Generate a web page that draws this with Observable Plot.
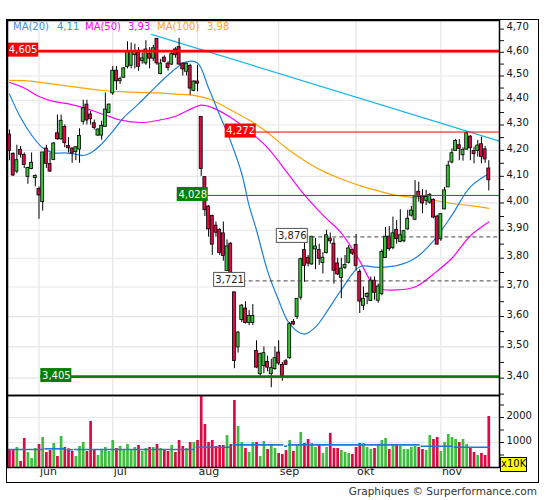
<!DOCTYPE html>
<html><head><meta charset="utf-8">
<script src="https://cdn.jsdelivr.net/npm/d3@7"></script>
<script src="https://cdn.jsdelivr.net/npm/@observablehq/plot@0.6"></script>
<style>
body{margin:0;background:#fff;font-family:"DejaVu Sans",Verdana,sans-serif;}
#wrap{position:relative;width:545px;height:500px;overflow:hidden;}
#wrap svg{position:absolute;left:0;}
.abs{position:absolute;white-space:nowrap;}
</style></head><body><div id="wrap"></div>
<script>
// ---------- data ----------
const open = [4.26,4.185,4.12,4.20,4.18,4.10,4.13,4.095,4.05,4.005,
4.205,4.145,4.165,4.265,4.245,4.29,4.215,4.205,4.195,4.205,
4.315,4.38,4.34,4.305,4.26,4.26,4.295,4.35,4.43,4.52,
4.48,4.495,4.54,4.545,4.59,4.595,4.565,4.555,4.59,4.575,
4.655,4.51,4.575,4.55,4.55,4.61,4.62,4.55,4.52,4.54,
4.44,4.475,4.33,4.095,3.985,3.95,3.915,3.90,3.887,3.757,
3.85,3.68,3.50,3.59,3.625,3.58,3.58,3.485,3.414,3.44,
3.45,3.414,3.43,3.48,3.44,3.452,3.465,3.58,3.60,3.665,
3.827,3.80,3.78,3.833,3.827,3.785,3.82,3.868,3.85,3.78,
3.733,3.768,3.785,3.827,3.845,3.75,3.638,3.668,3.654,3.72,
3.655,3.677,3.803,3.875,3.838,3.899,3.86,3.862,3.905,3.955,
3.94,4.04,4.022,4.01,4.003,4.01,3.948,3.869,3.978,4.06,
4.155,4.20,4.218,4.183,4.205,4.252,4.196,4.20,4.222,4.202,
4.128];
const high = [4.28,4.19,4.22,4.215,4.19,4.135,4.19,4.105,4.06,4.19,
4.22,4.19,4.23,4.34,4.34,4.30,4.25,4.21,4.215,4.285,
4.40,4.40,4.355,4.32,4.285,4.315,4.43,4.385,4.54,4.54,
4.495,4.535,4.645,4.64,4.635,4.62,4.595,4.65,4.62,4.63,
4.66,4.57,4.585,4.56,4.60,4.62,4.66,4.555,4.555,4.55,
4.48,4.545,4.33,4.097,3.99,3.955,3.93,3.905,3.93,3.865,
3.855,3.68,3.55,3.64,3.65,3.62,3.64,3.52,3.48,3.50,
3.47,3.46,3.50,3.52,3.45,3.46,3.58,3.59,3.66,3.80,
3.856,3.81,3.876,3.87,3.85,3.82,3.90,3.89,3.87,3.80,
3.80,3.81,3.845,3.83,3.885,3.76,3.70,3.68,3.734,3.735,
3.71,3.83,3.91,3.913,3.948,3.935,3.975,3.90,3.973,3.987,
4.084,4.078,4.05,4.047,4.035,4.015,3.955,3.96,4.058,4.158,
4.206,4.243,4.242,4.21,4.272,4.258,4.213,4.239,4.252,4.215,
4.16];
const low = [4.16,4.10,4.11,4.17,4.13,4.07,4.125,4.06,3.94,3.97,
4.13,4.115,4.16,4.24,4.24,4.21,4.19,4.15,4.16,4.15,
4.30,4.30,4.30,4.28,4.255,4.24,4.29,4.345,4.42,4.44,
4.465,4.49,4.53,4.53,4.53,4.52,4.55,4.545,4.53,4.56,
4.545,4.505,4.555,4.52,4.545,4.575,4.545,4.50,4.50,4.42,
4.435,4.435,4.10,3.95,3.875,3.81,3.875,3.81,3.79,3.755,
3.74,3.43,3.48,3.58,3.575,3.57,3.57,3.43,3.405,3.414,
3.42,3.37,3.425,3.44,3.39,3.44,3.46,3.57,3.59,3.655,
3.716,3.77,3.775,3.76,3.775,3.745,3.815,3.85,3.71,3.74,
3.66,3.76,3.78,3.81,3.755,3.61,3.62,3.64,3.65,3.655,
3.645,3.67,3.80,3.825,3.83,3.85,3.855,3.855,3.90,3.948,
3.935,4.003,3.96,3.99,3.995,3.942,3.848,3.86,3.975,4.06,
4.148,4.197,4.16,4.158,4.20,4.16,4.148,4.174,4.148,4.15,
4.045];
const close = [4.20,4.105,4.16,4.185,4.145,4.13,4.15,4.10,4.03,4.19,
4.15,4.12,4.225,4.245,4.315,4.23,4.21,4.19,4.21,4.255,
4.365,4.32,4.325,4.29,4.28,4.295,4.36,4.38,4.52,4.48,
4.485,4.53,4.60,4.60,4.60,4.54,4.572,4.61,4.575,4.615,
4.555,4.55,4.562,4.535,4.59,4.59,4.55,4.53,4.55,4.45,
4.475,4.47,4.13,3.975,3.905,3.85,3.893,3.82,3.81,3.84,
3.75,3.456,3.545,3.635,3.58,3.60,3.60,3.435,3.475,3.478,
3.435,3.43,3.462,3.448,3.408,3.444,3.573,3.575,3.658,3.795,
3.775,3.783,3.875,3.84,3.80,3.80,3.88,3.862,3.758,3.745,
3.762,3.775,3.833,3.818,3.775,3.652,3.658,3.675,3.72,3.682,
3.70,3.821,3.875,3.834,3.887,3.87,3.88,3.895,3.94,3.97,
4.022,4.025,4.00,4.02,4.028,3.948,3.85,3.957,4.045,4.139,
4.187,4.235,4.208,4.20,4.265,4.21,4.187,4.217,4.176,4.167,
4.087];
const volume = [720,720,800,240,1160,600,360,760,920,1200,
600,680,960,440,1240,800,747,640,440,840,
1000,640,1840,680,480,680,800,640,1080,760,
840,680,920,680,800,880,640,760,800,800,
920,760,680,640,880,600,1080,840,760,1000,
1000,1080,2880,1720,1000,1080,840,880,880,1280,
920,2680,1640,1000,760,600,1000,1000,440,1040,
720,880,760,560,520,680,1080,640,920,1400,
960,1120,960,800,880,560,800,1360,760,760,
680,600,560,520,800,960,960,800,720,760,
880,1080,1160,720,920,880,840,720,720,800,
840,800,720,680,1280,1120,1200,640,1000,1320,
1200,1120,1000,1120,920,800,600,480,560,480,
2040];
// volume average (steps): first bar, last bar, value
const volAvgFrom = [0,10,16,18,51,61,75,76,112,121];
const volAvgTo   = [9,15,17,50,60,74,75,111,120,130];
const volAvgVal  = [720,747,707,720,813,907,853,907,853,813];

// moving averages: [bar, value]
const ma20 = [[0,4.425],[3,4.33],[6,4.26],[9,4.21],[12,4.19],[15,4.19],[18,4.185],[20,4.18],[22,4.19],[25,4.225],[28,4.275],[31,4.33],[35,4.385],[40,4.46],[45,4.53],[48,4.56],[51,4.555],[54,4.45],[57,4.34],[60,4.235],[63,4.11],[65,3.99],[67,3.90],[70,3.755],[73,3.655],[76,3.575],[80,3.542],[83,3.565],[86,3.615],[90,3.69],[95,3.77],[100,3.768],[105,3.774],[110,3.80],[115,3.862],[120,3.955],[125,4.06],[130,4.11]];
const ma50 = [[0,4.473],[4,4.45],[8,4.415],[12,4.395],[16,4.385],[20,4.37],[26,4.34],[30,4.32],[36,4.31],[40,4.318],[45,4.335],[50,4.37],[52,4.38],[55,4.37],[60,4.33],[65,4.275],[70,4.21],[75,4.12],[80,4.03],[85,3.955],[90,3.89],[95,3.79],[98,3.72],[100,3.695],[105,3.69],[110,3.70],[115,3.745],[120,3.80],[125,3.88],[130,3.93]];
const ma100 = [[0,4.482],[5,4.48],[10,4.47],[15,4.46],[20,4.45],[25,4.44],[30,4.435],[40,4.43],[45,4.425],[50,4.42],[55,4.40],[60,4.36],[65,4.32],[70,4.27],[75,4.21],[80,4.16],[85,4.12],[90,4.09],[95,4.065],[100,4.045],[105,4.028],[110,4.02],[115,4.01],[120,3.998],[125,3.99],[130,3.98]];
const trend = [[38.5,4.677],[132.9,4.236]];

const levelValues = [4.605,4.272,4.028,3.876,3.721,3.405];
const levelLabelAt = [-0.5,58.5,45.5,72.5,55.5,8.5];

const monthStart = [8,28,51,73,94,117];
const monthNames = ["jun","jul","aug","sep","okt","nov"];

const priceTicks = [3.35,3.40,3.45,3.50,3.55,3.60,3.65,3.70,3.75,3.80,3.85,3.90,3.95,4.00,4.05,4.10,4.15,4.20,4.25,4.30,4.35,4.40,4.45,4.50,4.55,4.60,4.65,4.70];
const priceLabels = [3.40,3.50,3.60,3.70,3.80,3.90,4.00,4.10,4.20,4.30,4.40,4.50,4.60,4.70];
const priceGrid = [3.40,3.50,3.60,3.70,3.80,3.90,4.00,4.10,4.20,4.30,4.40,4.50,4.60];
const volTicks = [500,1000,1500,2000,2500];
const volLabels = [1000,2000];

// ---------- chart ----------
const X_DOMAIN = [-0.54, 132.9];
const GREEN = "#3cbf3c", RED = "#dc0a42", GRID = "#e6e6e6";
const bars = open.map((o,i) => ({i, o, h: high[i], l: low[i], c: close[i], v: volume[i], up: close[i] >= o}));
const comma = (v, n) => v.toFixed(n).replace(".", ",");
const pts = a => a.map(([i,v]) => ({i, v}));

const levelLook = [
  {stroke:"#ff0000", w:2.7, dash:null, box:"#ff0000", bs:"none", txt:"#fff"},
  {stroke:"#ff0000", w:1, dash:null, box:"#ff0000", bs:"none", txt:"#fff"},
  {stroke:"#008000", w:1, dash:null, box:"#008000", bs:"none", txt:"#fff"},
  {stroke:"#444", w:1, dash:"4,3", box:"#fff", bs:"#555", txt:"#222"},
  {stroke:"#444", w:1, dash:"4,3", box:"#fff", bs:"#555", txt:"#222"},
  {stroke:"#008000", w:2.7, dash:null, box:"#008000", bs:"none", txt:"#fff"}
];
const levelMarks = [], boxMarks = [];
levelValues.forEach((v,k) => {
  const d = [{v, at: levelLabelAt[k]}], s = levelLook[k];
  levelMarks.push(Plot.ruleY(d, {y:"v", x1:"at", x2: X_DOMAIN[1], stroke:s.stroke, strokeWidth:s.w, strokeDasharray:s.dash}));
  boxMarks.push(Plot.rect(d, {x1:"at", x2:"at", y1:"v", y2:"v", insetLeft:0, insetRight:-31, insetTop:-8, insetBottom:-6, fill:s.box, stroke:s.bs, strokeWidth:1}));
  boxMarks.push(Plot.text(d, {x:"at", y:"v", text: d => comma(d.v,3), dx:15.5, dy:-1, fill:s.txt, fontSize:10}));
});

const style = {fontFamily:"DejaVu Sans, Verdana, sans-serif", fontSize:"10px", background:"transparent", overflow:"visible", color:"#111"};

const price = Plot.plot({
  width:545, height:395, marginLeft:7, marginRight:46, marginTop:20, marginBottom:0,
  style,
  x:{domain:X_DOMAIN, axis:null},
  y:{type:"log", domain:[3.3457, 4.7378], axis:null},
  marks:[
    Plot.ruleY(priceGrid, {stroke:GRID, strokeWidth:1.2}),
    Plot.ruleX(monthStart, {stroke:GRID, strokeWidth:1.2}),
    Plot.line(pts(ma100), {x:"i", y:"v", stroke:"#ffa500", strokeWidth:1.2, curve:"catmull-rom"}),
    Plot.line(pts(ma50), {x:"i", y:"v", stroke:"#ff00ff", strokeWidth:1.2, curve:"catmull-rom"}),
    Plot.line(pts(ma20), {x:"i", y:"v", stroke:"#1f7fd9", strokeWidth:1.2, curve:"catmull-rom"}),
    Plot.line(pts(trend), {x:"i", y:"v", stroke:"#1cb4f0", strokeWidth:1.2}),
    Plot.ruleX(bars, {x:"i", y1:"l", y2:"h", stroke:"#000", strokeWidth:1}),
    Plot.rect(bars, {x1:"i", x2:"i", y1:"o", y2:"c", insetLeft:-1.5, insetRight:-1.5, insetTop:-0.5, insetBottom:-0.5, fill: d => d.up ? GREEN : RED, stroke:"#000", strokeWidth:0.8}),
    ...levelMarks,
    ...boxMarks,
    Plot.axisY(priceTicks, {anchor:"right", tickSize:4, tickFormat:() => "", label:null}),
    Plot.axisY(priceLabels, {anchor:"right", tickSize:0, tickPadding:7, dy:-2, tickFormat: d => comma(d,2), fontSize:10, label:null}),
    Plot.frame({stroke:"#000", strokeWidth:1.5})
  ]
});
price.style.top = "0px";

const volSegs = volAvgFrom.map((f,k) => ({f: f - 0.4, t: volAvgTo[k] + 0.4, v: volAvgVal[k]}));
const months = monthStart.map((m,k) => ({m, n: monthNames[k]}));
const vol = Plot.plot({
  width:545, height:88, marginLeft:7, marginRight:46, marginTop:0, marginBottom:16,
  style,
  x:{domain:X_DOMAIN, axis:null},
  y:{domain:[0,2880], axis:null},
  marks:[
    Plot.ruleY(volLabels, {stroke:GRID, strokeWidth:1.2}),
    Plot.ruleX(monthStart, {stroke:GRID, strokeWidth:1.2}),
    Plot.ruleX(bars, {x:"i", y1:0, y2:"v", stroke: d => d.up ? GREEN : RED, strokeWidth:2.7}),
    Plot.ruleY(volSegs, {y:"v", x1:"f", x2:"t", stroke:"#1f77d4", strokeWidth:1.6}),
    Plot.axisY(volTicks, {anchor:"right", tickSize:4, tickFormat:() => "", label:null}),
    Plot.axisY(volLabels, {anchor:"right", tickSize:0, tickPadding:7, dy:-2, tickFormat: d => String(d), fontSize:10, label:null}),
    Plot.text(months, {x:"m", frameAnchor:"bottom", text:"n", textAnchor:"start", dx:1, dy:7.5, fontSize:11, fill:"#222"}),
    Plot.frame({stroke:"#000", strokeWidth:1.5})
  ]
});
vol.style.top = "395px";

const wrap = document.getElementById("wrap");
const frame = document.createElement("div");
frame.className = "abs";
Object.assign(frame.style, {left:"6.3px", top:"19px", width:"532.5px", height:"464px", border:"1.5px solid #000", boxSizing:"border-box"});
wrap.appendChild(frame);
wrap.appendChild(price);
wrap.appendChild(vol);

// legend
const last = a => a[a.length-1][1];
const legend = [
  ["MA(20)", "#3a8ee6", 13], [comma(last(ma20),2), "#3a8ee6", 57],
  ["MA(50)", "#ff00ff", 85], [comma(last(ma50),2), "#ff00ff", 128],
  ["MA(100)", "#ffa500", 157], [comma(last(ma100),2), "#ffa500", 207]
];
legend.forEach(([t,c,x]) => {
  const s = document.createElement("div");
  s.className = "abs";
  Object.assign(s.style, {left:x+"px", top:"20.5px", color:c, fontSize:"10px", lineHeight:"12px"});
  s.textContent = t;
  wrap.appendChild(s);
});

const unit = document.createElement("div");
unit.className = "abs";
Object.assign(unit.style, {left:"500px", top:"457px", width:"27px", height:"14.5px", background:"#ffff00", border:"1px solid #000", boxSizing:"border-box", fontSize:"10px", lineHeight:"12.5px", textAlign:"center", color:"#000"});
unit.textContent = "x10K";
wrap.appendChild(unit);

const credit = document.createElement("div");
credit.className = "abs";
Object.assign(credit.style, {right:"8px", top:"485px", fontSize:"10.5px", lineHeight:"12px", color:"#333"});
credit.textContent = "Graphiques © Surperformance.com";
wrap.appendChild(credit);
</script></body></html>
